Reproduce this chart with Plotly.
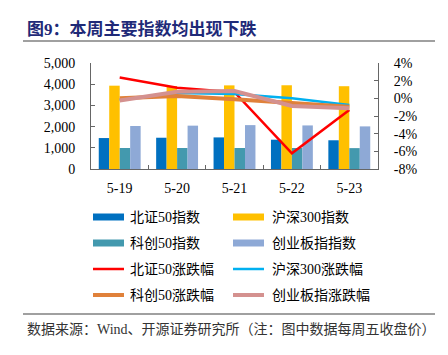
import plotly.graph_objects as go

categories = ["5-19", "5-20", "5-21", "5-22", "5-23"]

bar_names = ["北证50指数", "沪深300指数", "科创50指数", "创业板指指数"]
bz50_index = [1460, 1475, 1490, 1382, 1355]
hs300_index = [3930, 3910, 3945, 3950, 3905]
kc50_index = [990, 990, 992, 990, 985]
cyb_index = [2028, 2045, 2070, 2055, 2010]

line_names = ["北证50涨跌幅", "沪深300涨跌幅", "科创50涨跌幅", "创业板指涨跌幅"]
bz50_chg = [2.37, 1.20, 0.70, -6.23, -1.32]
hs300_chg = [-0.15, 0.60, 0.50, 0.00, -0.76]
kc50_chg = [0.00, 0.26, -0.11, -0.50, -0.95]
cyb_chg = [-0.25, 0.75, 0.83, -0.87, -1.13]

left_ticks = [0, 1000, 2000, 3000, 4000, 5000]
right_tickvals = [-8, -6, -4, -2, 0, 2, 4]
right_ticktext = ["-8%", "-6%", "-4%", "-2%", "0%", "2%", "4%"]

title_text = "图9：本周主要指数均出现下跌"
source_text = "数据来源：Wind、开源证券研究所（注：图中数据每周五收盘价）"

bar_colors = ["#0070C0", "#FFC000", "#4399AE", "#8EA9D6"]
line_colors = ["#FF0000", "#00B0F0", "#E0813A", "#D4918F"]
line_widths = [2.5, 2.5, 4, 4]

FONT = "Liberation Serif, Noto Sans CJK SC, serif"

fig = go.Figure()
bar_data = [bz50_index, hs300_index, kc50_index, cyb_index]
for name, vals, col in zip(bar_names, bar_data, bar_colors):
    fig.add_trace(go.Bar(x=categories, y=vals, name=name, marker_color=col,
                         marker_line_width=0, yaxis="y"))
line_data = [bz50_chg, hs300_chg, kc50_chg, cyb_chg]
for name, vals, col, w in zip(line_names, line_data, line_colors, line_widths):
    fig.add_trace(go.Scatter(x=categories, y=vals, name=name, mode="lines",
                             line=dict(color=col, width=w), yaxis="y2"))

# page offset caused by the default body margin
O = 8
W, H = 448 - 2 * O, 355 - 2 * O
# plot area in page pixels
L, R, T, B = 91, 378, 63, 169
pw, ph = R - L, B - T

def px(x):
    return (x - L) / pw

def py(y):
    return (B - y) / ph

shapes = []
annotations = []

annotations.append(dict(text="<b>" + title_text + "</b>", xref="paper", yref="paper",
                        x=px(25), y=py(30), xanchor="left", yanchor="middle",
                        showarrow=False, font=dict(family=FONT, size=17, color="#1F2A78")))
shapes.append(dict(type="line", xref="paper", yref="paper", x0=px(23), x1=px(435),
                   y0=py(41), y1=py(41), line=dict(color="#808080", width=1.5)))
shapes.append(dict(type="line", xref="paper", yref="paper", x0=px(23), x1=px(435),
                   y0=py(314), y1=py(314), line=dict(color="#808080", width=1.5)))
annotations.append(dict(text=source_text, xref="paper", yref="paper",
                        x=px(25), y=py(329), xanchor="left", yanchor="middle",
                        showarrow=False, font=dict(family=FONT, size=14, color="#333333")))

rows = [217, 243, 269, 295]
cols = [(93, 128), (233, 270)]
items = []
for n, c in zip(bar_names, bar_colors):
    items.append(("bar", n, c, 7))
for n, c, w in zip(line_names, line_colors, line_widths):
    items.append(("line", n, c, w))
for k, (kind, name, col, w) in enumerate(items):
    r = rows[k // 2]
    sx, tx = cols[k % 2]
    if kind == "bar":
        shapes.append(dict(type="rect", xref="paper", yref="paper",
                           x0=px(sx), x1=px(sx + 31), y0=py(r - 3.5), y1=py(r + 3.5),
                           fillcolor=col, line=dict(width=0)))
    else:
        shapes.append(dict(type="line", xref="paper", yref="paper",
                           x0=px(sx), x1=px(sx + 31), y0=py(r), y1=py(r),
                           line=dict(color=col, width=w)))
    annotations.append(dict(text=name, xref="paper", yref="paper", x=px(tx), y=py(r),
                            xanchor="left", yanchor="middle", showarrow=False,
                            font=dict(family=FONT, size=14, color="#000000")))

axis_col = "#666666"
fig.update_layout(
    width=W, height=H, autosize=False,
    margin=dict(l=L - O, r=(W + O) - R, t=T - O, b=(H + O) - B, pad=0),
    paper_bgcolor="white", plot_bgcolor="white",
    showlegend=False,
    barmode="group", bargap=0.27, bargroupgap=0,
    font=dict(family=FONT, size=14, color="#000000"),
    xaxis=dict(type="category", showline=True, linecolor=axis_col, linewidth=1,
               ticks="inside", ticklen=4, tickcolor=axis_col, tickson="boundaries",
               showgrid=False, zeroline=False, tickfont=dict(size=14),
               ticklabelstandoff=6),
    yaxis=dict(range=[0, 5000], tickvals=left_ticks, tickformat=",",
               showline=True, linecolor=axis_col, linewidth=1, ticks="inside",
               ticklen=4, tickcolor=axis_col, showgrid=False, zeroline=False,
               tickfont=dict(size=14), ticklabelstandoff=12),
    yaxis2=dict(range=[-8, 4], tickvals=right_tickvals, ticktext=right_ticktext,
                overlaying="y", side="right", showline=True, linecolor=axis_col,
                linewidth=1, ticks="inside", ticklen=4, tickcolor=axis_col,
                showgrid=False, zeroline=False, tickfont=dict(size=14),
                ticklabelstandoff=12),
    shapes=shapes, annotations=annotations,
)

fig.write_html("out.html")
